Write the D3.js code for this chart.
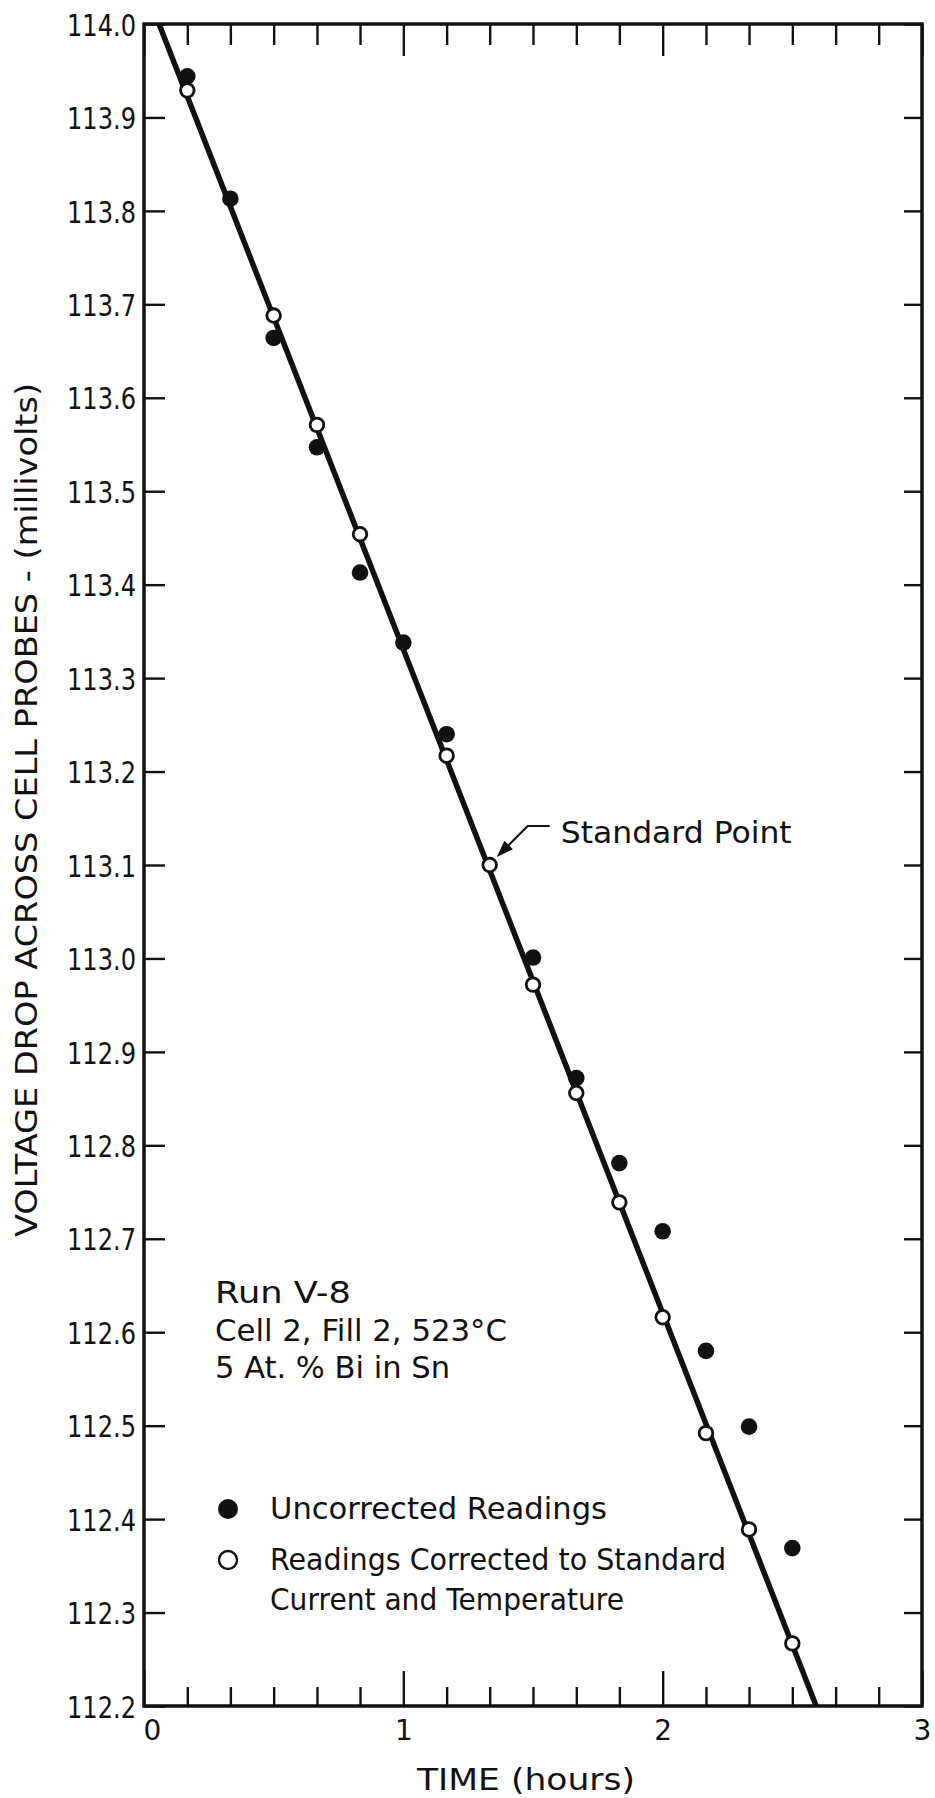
<!DOCTYPE html>
<html>
<head>
<meta charset="utf-8">
<script src="https://cdn.jsdelivr.net/npm/d3@7"></script>
<style>
  html, body { margin: 0; padding: 0; background: #fff; }
  svg { display: block; }
  text { font-family: "DejaVu Sans", "Liberation Sans", sans-serif; fill: #111; }
</style>
</head>
<body>
<svg id="chart" width="935" height="1798"></svg>
<script>
// Elapsed time of each reading (hours)
const hours = [0.167, 0.333, 0.5, 0.667, 0.833, 1.0, 1.167, 1.333, 1.5, 1.667, 1.833, 2.0, 2.167, 2.333, 2.5];
// Uncorrected voltage readings (mV); null where no reading is plotted
const uncorrected = [113.944, 113.813, 113.664, 113.547, 113.413, 113.338, 113.240, null, 113.001, 112.872, 112.781, 112.708, 112.580, 112.499, 112.369];
// Readings corrected to standard current and temperature (mV)
const corrected = [113.929, null, 113.688, 113.571, 113.454, null, 113.217, 113.100, 112.972, 112.856, 112.739, 112.616, 112.492, 112.389, 112.267];
// End points of the fitted straight line
const fitHours = [0.058, 2.592];
const fitVolts = [114.0, 112.2];
// Standard point
const standardHour = 1.333;
const standardVolt = 113.100;

// Axis ticks and labels
const yTickValues = [114.0, 113.9, 113.8, 113.7, 113.6, 113.5, 113.4, 113.3, 113.2, 113.1, 113.0,
                     112.9, 112.8, 112.7, 112.6, 112.5, 112.4, 112.3, 112.2];
const xMajorTicks = [0, 1, 2, 3];
const xTickLabels = ["0", "1", "2", "3"];
const xMinorTicks = [0.167, 0.333, 0.5, 0.667, 0.833, 1.167, 1.333, 1.5, 1.667, 1.833,
                     2.167, 2.333, 2.5, 2.667, 2.833];

const infoLines = ["Run  V-8", "Cell 2, Fill 2, 523°C", "5 At. % Bi  in  Sn"];
const legendLabels = ["Uncorrected  Readings", "Readings  Corrected  to  Standard", "Current  and  Temperature"];

const svg = d3.select("#chart");
const plot = { left: 144, right: 922, top: 24, bottom: 1706 };

const x = d3.scaleLinear().domain([0, 3]).range([plot.left, plot.right]);
const y = d3.scaleLinear().domain([112.2, 114.0]).range([plot.bottom, plot.top]);

const ink = "#111";

// ---- axes (ticks point inward) ----
function styleAxis(g) {
  g.select(".domain").remove();
  g.selectAll(".tick line").attr("stroke", ink).attr("stroke-width", 2.4);
}

// left axis with labels
const gLeft = svg.append("g").attr("transform", `translate(${plot.left},0)`)
  .call(d3.axisLeft(y).tickValues(yTickValues).tickSize(-21).tickPadding(8).tickFormat(d3.format(".1f")))
  .call(styleAxis);
gLeft.selectAll(".tick text")
  .attr("font-size", 31).attr("fill", ink).attr("dy", "0.36em")
  .attr("textLength", 69).attr("lengthAdjust", "spacingAndGlyphs")
  .style("font-family", "'DejaVu Sans', sans-serif");

// right axis
svg.append("g").attr("transform", `translate(${plot.right},0)`)
  .call(d3.axisRight(y).tickValues(yTickValues).tickSize(-18).tickFormat(""))
  .call(styleAxis);

// top axis: minor and major ticks
svg.append("g").attr("transform", `translate(0,${plot.top})`)
  .call(d3.axisTop(x).tickValues(xMinorTicks).tickSize(-21).tickFormat(""))
  .call(styleAxis);
svg.append("g").attr("transform", `translate(0,${plot.top})`)
  .call(d3.axisTop(x).tickValues(xMajorTicks).tickSize(-32).tickFormat(""))
  .call(styleAxis);

// bottom axis: minor ticks, then major ticks with labels
svg.append("g").attr("transform", `translate(0,${plot.bottom})`)
  .call(d3.axisBottom(x).tickValues(xMinorTicks).tickSize(-19).tickFormat(""))
  .call(styleAxis);
const gBottom = svg.append("g").attr("transform", `translate(0,${plot.bottom})`)
  .call(d3.axisBottom(x).tickValues(xMajorTicks).tickSize(-35).tickPadding(14)
        .tickFormat((d, i) => xTickLabels[i]))
  .call(styleAxis);
gBottom.selectAll(".tick text")
  .attr("font-size", 28).attr("fill", ink)
  .attr("x", d => d === 0 ? 8 : 0)
  .style("font-family", "'DejaVu Sans', sans-serif");

// frame
svg.append("rect")
  .attr("x", plot.left).attr("y", plot.top)
  .attr("width", plot.right - plot.left).attr("height", plot.bottom - plot.top)
  .attr("fill", "none").attr("stroke", ink).attr("stroke-width", 3.5);

// ---- fitted line ----
const fitPts = fitHours.map((h, i) => [h, fitVolts[i]]);
svg.append("path")
  .datum(fitPts)
  .attr("d", d3.line().x(d => x(d[0])).y(d => y(d[1])))
  .attr("fill", "none").attr("stroke", ink).attr("stroke-width", 5.5);

// ---- readings ----
const uncPts = hours.map((h, i) => [h, uncorrected[i]]).filter(d => d[1] !== null);
const corPts = hours.map((h, i) => [h, corrected[i]]).filter(d => d[1] !== null);

svg.append("g").selectAll("circle").data(uncPts).join("circle")
  .attr("cx", d => x(d[0])).attr("cy", d => y(d[1])).attr("r", 8.3)
  .attr("fill", ink);

svg.append("g").selectAll("circle").data(corPts).join("circle")
  .attr("cx", d => x(d[0])).attr("cy", d => y(d[1])).attr("r", 6.8)
  .attr("fill", "#fff").attr("stroke", ink).attr("stroke-width", 2.8);

// ---- standard point annotation ----
const sx = x(standardHour), sy = y(standardVolt);
const tip = [sx + 7, sy - 8];
svg.append("path")
  .attr("d", `M${sx + 60},${sy - 39} L${sx + 38},${sy - 39} L${tip[0] + 6},${tip[1] - 6}`)
  .attr("fill", "none").attr("stroke", ink).attr("stroke-width", 2.2);
// arrow head
const ang = Math.atan2(tip[1] - (sy - 39), tip[0] - (sx + 38));
const hl = 17, hw = 6;
const bx = tip[0] - hl * Math.cos(ang), by = tip[1] - hl * Math.sin(ang);
svg.append("path")
  .attr("d", `M${tip[0]},${tip[1]} L${bx - hw * Math.sin(ang)},${by + hw * Math.cos(ang)} L${bx + hw * Math.sin(ang)},${by - hw * Math.cos(ang)} Z`)
  .attr("fill", ink);
svg.append("text")
  .attr("x", sx + 71).attr("y", sy - 22)
  .attr("font-size", 30)
  .attr("textLength", 231).attr("lengthAdjust", "spacingAndGlyphs")
  .text("Standard  Point");

// ---- run information ----
const infoWidths = [136, 292, 235];
svg.append("g").selectAll("text").data(infoLines).join("text")
  .attr("x", 215).attr("y", (d, i) => 1303 + i * 37.5)
  .attr("font-size", 30)
  .attr("textLength", (d, i) => infoWidths[i]).attr("lengthAdjust", "spacingAndGlyphs")
  .text(d => d);

// ---- legend ----
const legendWidths = [337, 456, 354];
const legendY = [1519, 1570, 1610];
const lg = svg.append("g");
lg.append("circle").attr("cx", 228).attr("cy", 1509).attr("r", 10).attr("fill", ink);
lg.append("circle").attr("cx", 228).attr("cy", 1560).attr("r", 9)
  .attr("fill", "#fff").attr("stroke", ink).attr("stroke-width", 2.4);
lg.selectAll("text").data(legendLabels).join("text")
  .attr("x", 270).attr("y", (d, i) => legendY[i])
  .attr("font-size", 30)
  .attr("textLength", (d, i) => legendWidths[i]).attr("lengthAdjust", "spacingAndGlyphs")
  .text(d => d);

// ---- axis titles ----
svg.append("text")
  .attr("x", 417).attr("y", 1790)
  .attr("font-size", 30)
  .attr("textLength", 218).attr("lengthAdjust", "spacingAndGlyphs")
  .text("TIME  (hours)");

svg.append("text")
  .attr("transform", "translate(37,810) rotate(-90)")
  .attr("text-anchor", "middle")
  .attr("font-size", 30)
  .attr("textLength", 854).attr("lengthAdjust", "spacingAndGlyphs")
  .text("VOLTAGE  DROP  ACROSS  CELL  PROBES - (millivolts)");
</script>
</body>
</html>
